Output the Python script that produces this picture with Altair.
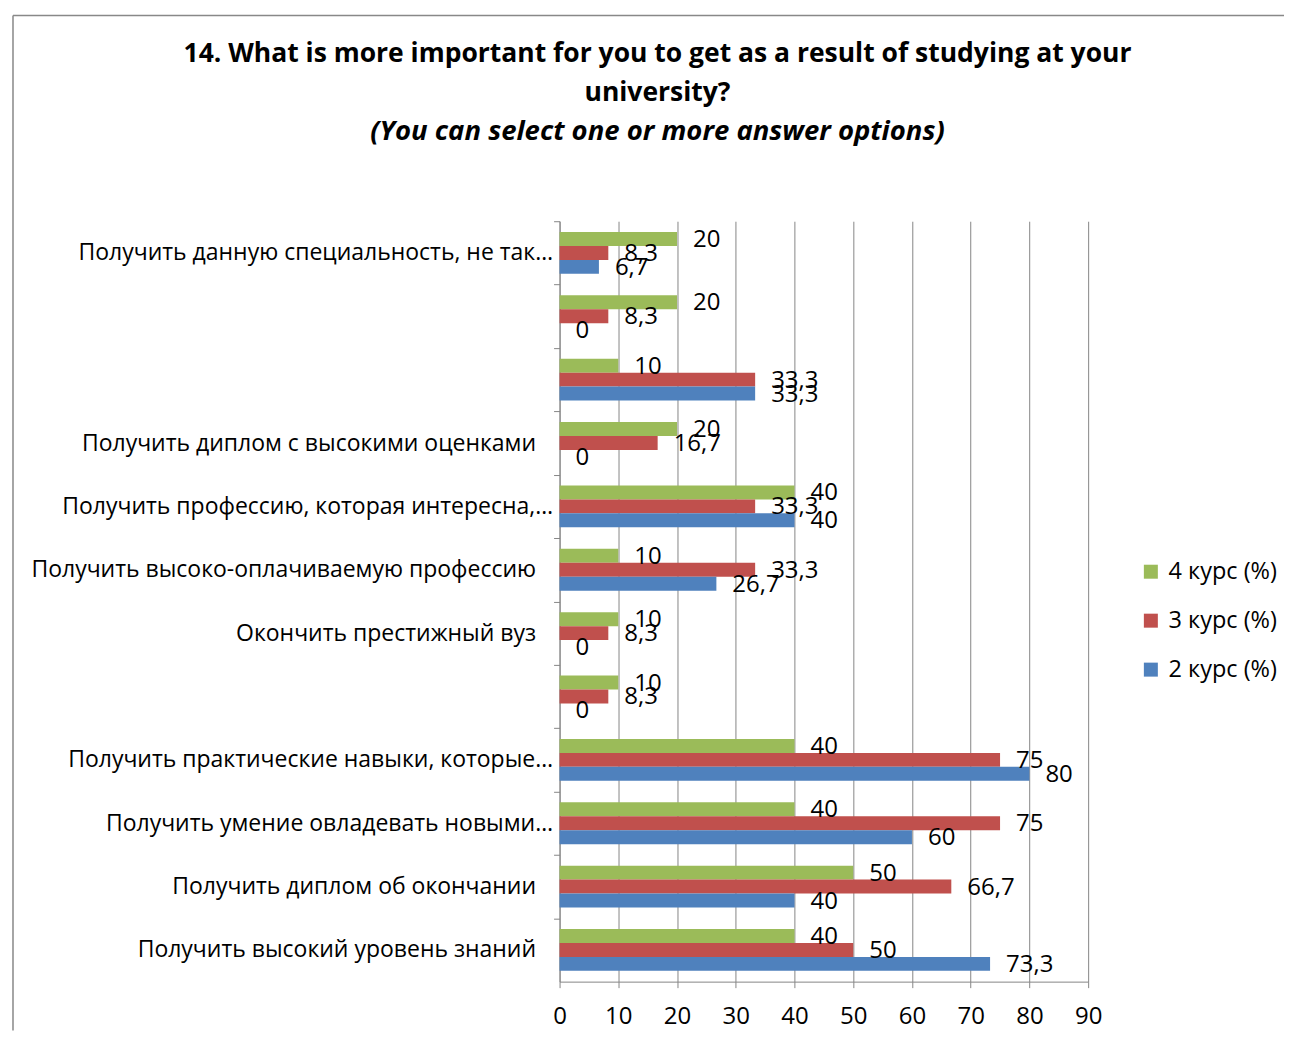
import json
import altair as alt
import pandas as pd

categories = [
    "Получить данную специальность, не так…",
    "",
    "",
    "Получить диплом с высокими оценками",
    "Получить профессию, которая интересна,…",
    "Получить высоко-оплачиваемую профессию",
    "Окончить престижный вуз",
    "",
    "Получить практические навыки, которые…",
    "Получить умение овладевать новыми…",
    "Получить диплом об окончании",
    "Получить высокий уровень знаний",
]
series = ["4 курс (%)", "3 курс (%)", "2 курс (%)"]
kurs4 = [20, 20, 10, 20, 40, 10, 10, 10, 40, 40, 50, 40]
kurs3 = [8.3, 8.3, 33.3, 16.7, 33.3, 33.3, 8.3, 8.3, 75, 75, 66.7, 50]
kurs2 = [6.7, 0, 33.3, 0, 40, 26.7, 0, 0, 80, 60, 40, 73.3]
colors = ["#9BBB59", "#C0504D", "#4F81BD"]
x_ticks = [0, 10, 20, 30, 40, 50, 60, 70, 80, 90]

rows = []
for i in range(len(categories)):
    for s, vals in zip(series, [kurs4, kurs3, kurs2]):
        v = vals[i]
        rows.append({"key": i, "series": s, "value": v,
                     "label": f"{v:g}".replace(".", ",")})
df = pd.DataFrame(rows)

display = [c if (c == "" or c.endswith("…")) else c + "\u2800" for c in categories]
label_expr = json.dumps(display, ensure_ascii=False) + "[datum.value]"

W, H = 529, 761
step = H / len(categories)
FONT = "Open Sans"
GRAY = "#868686"

y_enc = alt.Y(
    "key:O",
    sort=list(range(len(categories))),
    scale=alt.Scale(paddingInner=0.34, paddingOuter=0.17),
    axis=alt.Axis(
        title=None, labelExpr=label_expr, labelFont=FONT, labelFontSize=23,
        labelColor="black", labelLimit=600, minExtent=546, maxExtent=546,
        tickSize=6, tickColor=GRAY, domainColor=GRAY, labelPadding=1,
        tickOffset=-step / 2, labelOffset=step / 2,
    ),
)
yoff = alt.YOffset("series:N", sort=series)
x_enc = alt.X(
    "value:Q",
    scale=alt.Scale(domain=[0, 90], nice=False),
    axis=alt.Axis(
        title=None, values=x_ticks, grid=True, gridColor=GRAY, tickColor=GRAY,
        domainColor=GRAY, tickSize=6, labelFont=FONT, labelFontSize=24,
        labelColor="black", labelPadding=17, labelFlush=False,
    ),
)

bars = alt.Chart(df).mark_bar().encode(
    y=y_enc, yOffset=yoff, x=x_enc,
    color=alt.Color(
        "series:N", sort=series,
        scale=alt.Scale(domain=series, range=colors),
        legend=alt.Legend(
            orient="none", legendX=580, legendY=339, title=None,
            symbolType="square", symbolSize=196, symbolStrokeWidth=0,
            labelFont=FONT, labelFontSize=23.5, labelColor="black",
            rowPadding=24, labelOffset=6, padding=0,
        ),
    ),
)

labels = alt.Chart(df).mark_text(
    align="left", baseline="middle", dx=16, dy=1, font=FONT, fontSize=24, color="black"
).encode(y=y_enc, yOffset=yoff, x=x_enc, text="label:N")

frame_df = pd.DataFrame({"a": [0]})
frame_top = alt.Chart(frame_df).mark_rule(color="#888888", strokeWidth=1.5).encode(
    x=alt.value(-547), x2=alt.value(725), y=alt.value(-206)
)
frame_left = alt.Chart(frame_df).mark_rule(color="#888888", strokeWidth=1.5).encode(
    x=alt.value(-547), y=alt.value(-206), y2=alt.value(810)
)

chart = alt.layer(frame_top, frame_left, bars, labels).properties(
    width=W, height=H,
    padding={"left": 4, "top": 6, "right": 0, "bottom": 0},
    title=alt.TitleParams(
        text=["14. What is more important for you to get as a result of studying at your",
              "university?"],
        subtitle="(You can select one or more answer options)",
        font=FONT, fontSize=26.5, fontWeight="bold", color="black", lineHeight=39,
        subtitleFont=FONT, subtitleFontSize=27.5, subtitleFontStyle="italic",
        subtitleFontWeight="bold", subtitleColor="black", subtitlePadding=12,
        anchor="middle", frame="bounds", offset=-131, dx=9,
    ),
).configure_view(stroke="transparent")

chart.save("out.html", embed_options={"renderer": "svg", "actions": False})
